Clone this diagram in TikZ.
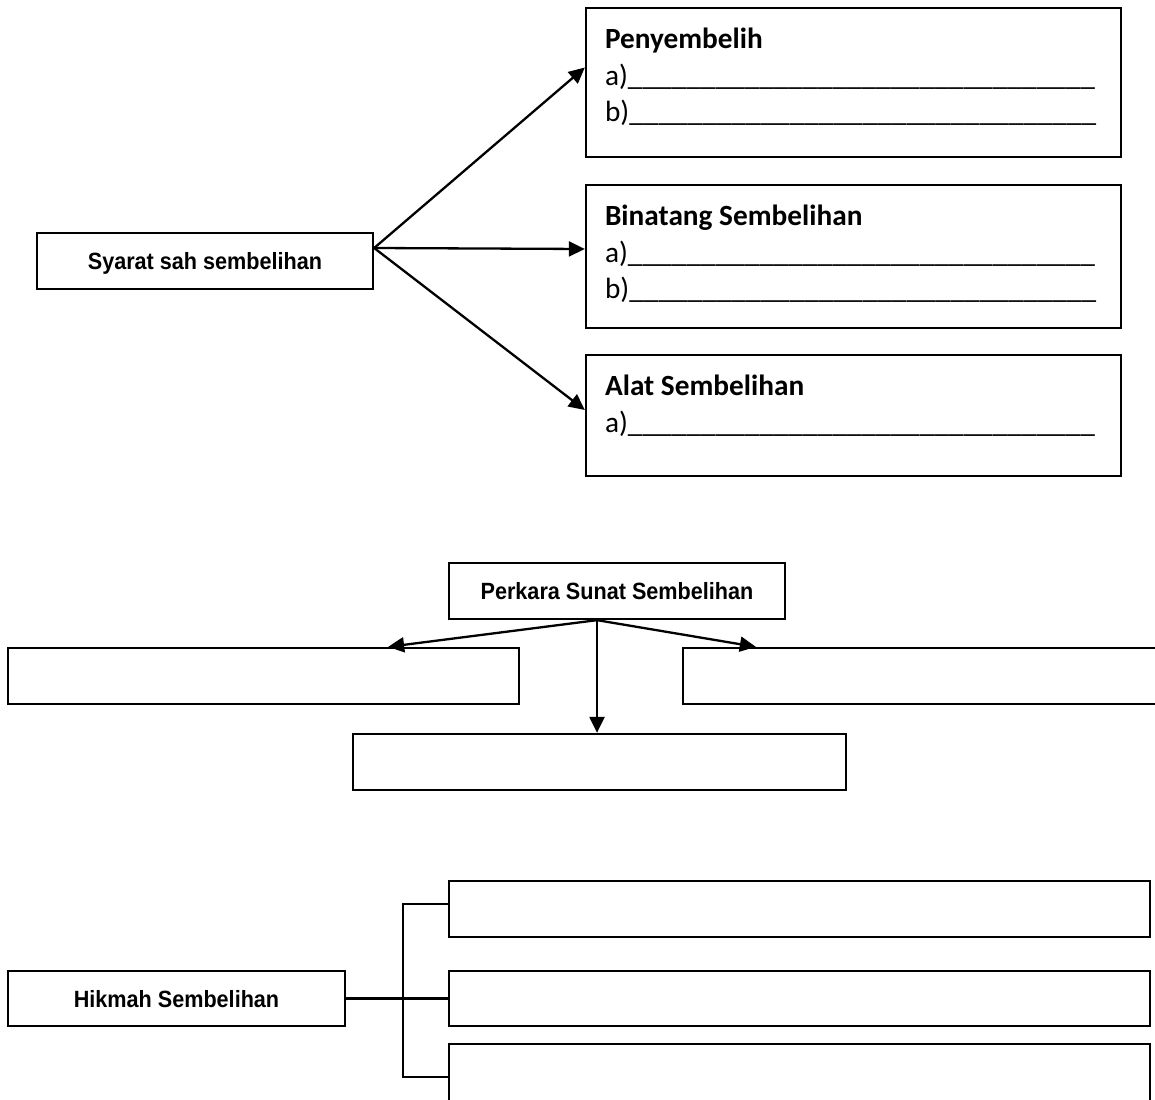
\documentclass[tikz,border=0pt]{standalone}
\usepackage{fontspec}
\setmainfont{Carlito}
\newfontfamily\labelfont[FakeStretch=0.92]{Liberation Sans}
\usetikzlibrary{arrows.meta}
\newcommand{\empat}{\_\_\_\_}
\newcommand{\garis}{\empat\empat\empat\empat\empat\empat\empat\empat}

\begin{document}
\begin{tikzpicture}[x=1pt,y=-1pt,
    kotak/.style={draw, line width=2.3pt, inner sep=0pt},
    tajuk/.style={kotak, font=\labelfont\bfseries\fontsize{23.5}{28}\selectfont, text height=17pt, text depth=0pt},
    isi/.style={anchor=base west, inner sep=0pt, font=\fontsize{29.3}{35}\selectfont},
    judul/.style={isi, font=\bfseries\fontsize{29.3}{35}\selectfont},
    panah/.style={line width=2.3pt, -{Triangle[length=16pt,width=15pt]}},
    garisan/.style={line width=2.3pt}]
    \useasboundingbox (0,0) rectangle (1155,1099);

    % Syarat sah sembelihan
    \node[tajuk, minimum width=336pt, minimum height=56pt] (syarat) at (205,261) {Syarat sah sembelihan};
    \node[kotak, minimum width=535pt, minimum height=149pt] (peny) at (853.5,82.5) {};
    \node[kotak, minimum width=535pt, minimum height=143pt] (binatang) at (853.5,256.5) {};
    \node[kotak, minimum width=535pt, minimum height=121pt] (alat) at (853.5,415.5) {};

    \node[judul] (peny-t) at ([shift={(20,42)}]peny.north west) {Penyembelih};
    \node[isi] (peny-a) at ([shift={(20,79)}]peny.north west) {a)\garis};
    \node[isi] (peny-b) at ([shift={(20,115)}]peny.north west) {b)\garis};
    \node[judul] (binatang-t) at ([shift={(20,42)}]binatang.north west) {Binatang Sembelihan};
    \node[isi] (binatang-a) at ([shift={(20,79)}]binatang.north west) {a)\garis};
    \node[isi] (binatang-b) at ([shift={(20,115)}]binatang.north west) {b)\garis};
    \node[judul] (alat-t) at ([shift={(20,42)}]alat.north west) {Alat Sembelihan};
    \node[isi] (alat-a) at ([shift={(20,79)}]alat.north west) {a)\garis};

    \coordinate (simpang) at ([yshift=13pt]syarat.east);
    \draw[panah] (simpang) -- ([yshift=15pt]peny.west);
    \draw[panah] (simpang) -- ([yshift=7.5pt]binatang.west);
    \draw[panah] (simpang) -- ([yshift=5.5pt]alat.west);

    % Perkara sunat
    \node[tajuk, minimum width=336pt, minimum height=56pt] (perkara) at (617,591) {Perkara Sunat Sembelihan};
    \node[kotak, minimum width=511pt, minimum height=56pt] (kiri) at (263.5,676) {};
    \node[kotak, minimum width=477pt, minimum height=56pt] (kanan) at (921.5,676) {};
    \node[kotak, minimum width=493pt, minimum height=56pt] (bawah) at (599.5,762) {};

    \coordinate (pangkal) at ([xshift=-20pt]perkara.south);
    \draw[panah] (pangkal) -- ([xshift=-132pt]kiri.north east);
    \draw[panah] (pangkal) -- ([xshift=74pt]kanan.north west);
    \draw[panah] (pangkal) -- (pangkal |- bawah.north);

    % Hikmah
    \node[tajuk, minimum width=337pt, minimum height=55pt] (hikmah) at (176.5,998.5) {Hikmah Sembelihan};
    \node[kotak, minimum width=701pt, minimum height=56pt] (h1) at (799.5,909) {};
    \node[kotak, minimum width=701pt, minimum height=55pt] (h2) at (799.5,998.5) {};
    \node[kotak, minimum width=701pt, minimum height=61pt] (h3) at (799.5,1074.5) {};

    \coordinate (cabang) at (403,998.5);
    \draw[garisan] (hikmah.east) -- (h2.west);
    \draw[garisan] ([yshift=5pt]h1.west) -| (cabang) |- ([yshift=-2.5pt]h3.west);
\end{tikzpicture}
\end{document}
